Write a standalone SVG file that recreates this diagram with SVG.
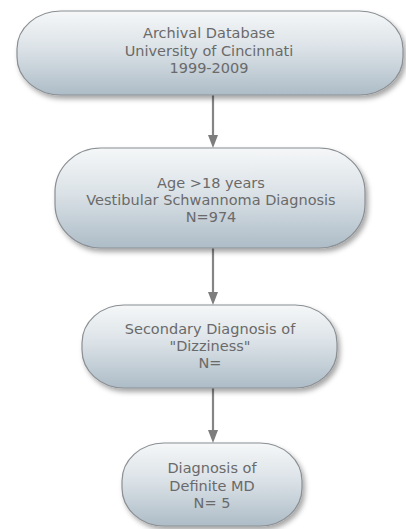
<svg xmlns="http://www.w3.org/2000/svg" width="406" height="529" viewBox="0 0 406 529">
<style>
.box{fill:url(#g);stroke:#8a8f93;stroke-width:1.2;filter:url(#sh)}
.t{font-family:"DejaVu Sans",Verdana,sans-serif;font-size:14.5px;fill:#6a6a6a;text-anchor:middle}
.c{stroke:#858585;stroke-width:2.2;fill:none}
.ah{fill:#7d7d7d}
</style>
<defs>
<linearGradient id="g" x1="0" y1="0" x2="0" y2="1">
<stop offset="0" stop-color="#f5f7f8"/>
<stop offset="0.45" stop-color="#dbe2e7"/>
<stop offset="1" stop-color="#adbcc7"/>
</linearGradient>
<filter id="sh" x="-10%" y="-20%" width="125%" height="150%">
<feDropShadow dx="2.5" dy="3.5" stdDeviation="2.5" flood-color="#000" flood-opacity="0.35"/>
</filter>
</defs>
<rect width="406" height="529" fill="#fff"/>
<g id="connectors">
<line class="c" x1="213" y1="95" x2="213" y2="137"/>
<polygon class="ah" points="208,135 218,135 213,148"/>
<line class="c" x1="213" y1="248" x2="213" y2="294"/>
<polygon class="ah" points="208,292 218,292 213,305"/>
<line class="c" x1="213" y1="388" x2="213" y2="432"/>
<polygon class="ah" points="208,430 218,430 213,443"/>
</g>
<g id="node1">
<rect class="box" x="17" y="11" width="386" height="84" rx="44" ry="38"/>
<text class="t" x="209" y="38">Archival Database</text>
<text class="t" x="209" y="56">University of Cincinnati</text>
<text class="t" x="209" y="73">1999-2009</text>
</g>
<g id="node2">
<rect class="box" x="55" y="148" width="310" height="100" rx="46" ry="44"/>
<text class="t" x="211" y="188">Age &gt;18 years</text>
<text class="t" x="211" y="205">Vestibular Schwannoma Diagnosis</text>
<text class="t" x="211" y="222">N=974</text>
</g>
<g id="node3">
<rect class="box" x="82" y="305" width="255" height="83" rx="42" ry="38"/>
<text class="t" x="210" y="334">Secondary Diagnosis of</text>
<text class="t" x="210" y="351">"Dizziness"</text>
<text class="t" x="210" y="368">N=</text>
</g>
<g id="node4">
<rect class="box" x="122" y="443" width="180" height="83" rx="42" ry="38"/>
<text class="t" x="212" y="473">Diagnosis of</text>
<text class="t" x="212" y="491">Definite MD</text>
<text class="t" x="212" y="508">N= 5</text>
</g>
</svg>
